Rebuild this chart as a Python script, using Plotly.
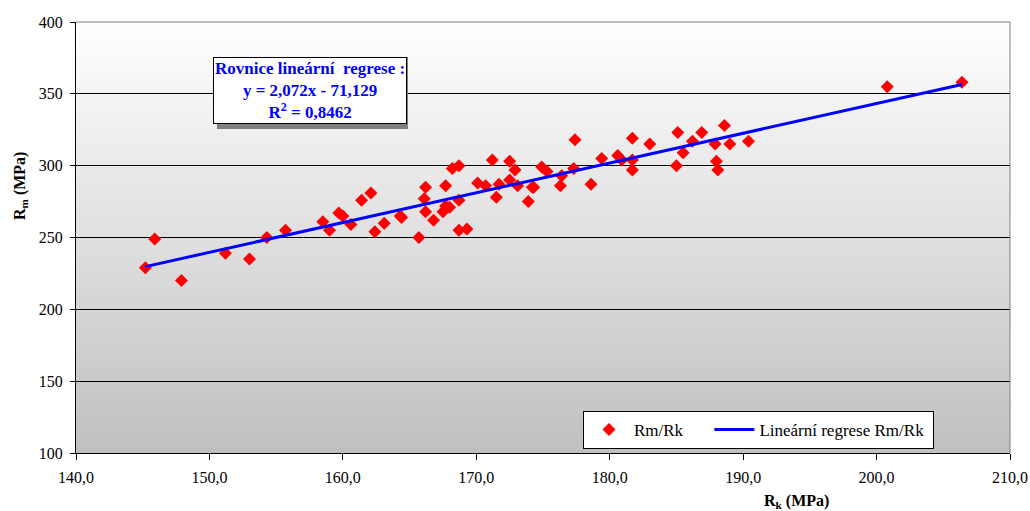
import plotly.graph_objects as go

# Rk (MPa) values
rk = [145.2, 145.9, 147.9, 151.2, 153.0, 154.3, 155.7, 158.5, 159.0,
      159.7, 160.0, 160.6, 161.4, 162.1, 162.4, 163.1, 164.3, 164.4, 165.7,
      166.1, 166.2, 166.2, 166.8, 167.5, 167.7, 167.7, 168.0, 168.2, 168.7,
      168.7, 169.3, 168.7, 170.1, 170.7, 171.2, 171.5, 171.7,
      172.5, 172.9, 172.5, 173.1, 173.9, 174.2, 174.3, 174.9, 175.3, 176.3,
      176.4, 177.4, 177.3, 178.6, 179.4, 180.6, 180.9, 181.7, 181.7, 181.7,
      183.0,
      185.1, 185.0, 185.5, 186.2, 186.9, 187.9, 188.0, 188.1, 188.6, 189.0,
      190.4,
      200.8, 206.4]
# Rm (MPa) values
rm = [229, 249, 220, 239, 235, 250, 255, 261, 255,
      267, 265, 259, 276, 281, 254, 260, 265, 264, 250,
      277, 285, 268, 262, 268, 286, 272, 271, 298, 300,
      255, 256, 276, 288, 286, 304, 278, 287,
      303, 297, 290, 286, 275, 285, 285, 299, 296, 286,
      293, 318, 298, 287, 305, 307, 304, 319, 304, 297,
      315,
      323, 300, 309, 317, 323, 315, 303, 297, 328, 315,
      317,
      355, 358]

# regression coefficients shown on the chart
slope = 2.072
intercept = -71.129
r2 = 0.8462

x_ticks = [140, 150, 160, 170, 180, 190, 200, 210]
y_ticks = [100, 150, 200, 250, 300, 350, 400]

FONT = "Liberation Serif"

# plot area in pixels (page coords)
L, R, T, B = 76, 1010, 22, 453
PW, PH = R - L, B - T


def px(x):
    return (x - L) / PW


def py(y):
    return (B - y) / PH


fig = go.Figure()
fig.add_trace(go.Scatter(
    x=rk, y=rm, mode="markers", name="Rm/Rk&nbsp;&nbsp;&nbsp;&nbsp;&nbsp;",
    marker=dict(symbol="diamond", size=10, color="#ff0000", line=dict(width=0)),
))
x_line = [min(rk), max(rk)]
y_line = [slope * v + intercept for v in x_line]
fig.add_trace(go.Scatter(
    x=x_line, y=y_line, mode="lines", name="Lineární regrese Rm/Rk&nbsp;",
    line=dict(color="#0000ff", width=3),
))

shapes = []
N = 80
top = (255, 255, 255)
bot = (192, 192, 192)
for i in range(N):
    t = (i + 0.5) / N
    c = tuple(round(top[k] + (bot[k] - top[k]) * t) for k in range(3))
    shapes.append(dict(type="rect", xref="x domain", yref="y domain",
                       x0=0, x1=1, y0=1 - (i + 1) / N, y1=1 - i / N + 0.002,
                       fillcolor="rgb(%d,%d,%d)" % c, line=dict(width=0),
                       layer="below"))
shapes.append(dict(type="line", xref="x domain", yref="y domain",
                   x0=0, x1=1, y0=1, y1=1, line=dict(color="#808080", width=1),
                   layer="above"))
shapes.append(dict(type="line", xref="x domain", yref="y domain",
                   x0=1, x1=1, y0=0, y1=1, line=dict(color="#808080", width=1),
                   layer="above"))
# shadow of the equation box
shapes.append(dict(type="rect", xref="paper", yref="paper",
                   x0=px(217), x1=px(408), y0=py(129), y1=py(57),
                   fillcolor="#808080", line=dict(width=0), layer="above"))

eq_text = ("<b>Rovnice lineární&nbsp; regrese :<br>y = %s - %s<br>R<sup>2</sup> = %s</b>" % (
    ("%.3fx" % slope).replace(".", ","),
    ("%.3f" % -intercept).replace(".", ","),
    ("%.4f" % r2).replace(".", ",")))

annotations = [
    dict(xref="paper", yref="paper", x=px(309.5), y=py(90),
         text=eq_text, showarrow=False,
         font=dict(family=FONT, size=17, color="#0000ff"),
         bgcolor="#ffffff", bordercolor="#000000", borderwidth=1, borderpad=1,
         xanchor="center", yanchor="middle", align="center"),
    dict(xref="paper", yref="paper", x=px(796), y=py(501),
         text="<b>R<sub>k</sub> (MPa)</b>", showarrow=False,
         font=dict(family=FONT, size=16, color="#000000"),
         xanchor="center", yanchor="middle"),
    dict(xref="paper", yref="paper", x=px(20), y=py(186),
         text="<b>R<sub>m</sub> (MPa)</b>", showarrow=False, textangle=-90,
         font=dict(family=FONT, size=16, color="#000000"),
         xanchor="center", yanchor="middle"),
]

fig.update_layout(
    width=1030, height=511, autosize=False,
    margin=dict(l=L, r=1030 - R, t=T, b=511 - B, autoexpand=False),
    paper_bgcolor="#ffffff", plot_bgcolor="#ffffff",
    font=dict(family=FONT, size=16, color="#000000"),
    separators=", ",
    showlegend=True,
    legend=dict(orientation="h", x=px(583), y=py(411),
                xanchor="left", yanchor="top",
                bgcolor="#ffffff", bordercolor="#000000", borderwidth=1,
                font=dict(family=FONT, size=17, color="#000000"),
                itemwidth=40, tracegroupgap=0),
    shapes=shapes,
    annotations=annotations,
    xaxis=dict(range=[140, 210], tickvals=x_ticks, tickformat=".1f",
               showgrid=False, zeroline=False, showline=True, linecolor="#000000",
               linewidth=1, ticks="outside", ticklen=6, tickcolor="#000000",
               ticklabelstandoff=4, tickfont=dict(family=FONT, size=16),
               automargin=False),
    yaxis=dict(range=[100, 400], tickvals=y_ticks, showgrid=True,
               gridcolor="#000000", gridwidth=1, zeroline=False, showline=True,
               linecolor="#000000", linewidth=1, ticks="outside", ticklen=5,
               tickcolor="#000000", ticklabelstandoff=4,
               tickfont=dict(family=FONT, size=16), automargin=False),
)

fig.write_html("out.html",
               config={"displayModeBar": False, "responsive": False},
               post_script="document.body.style.margin='0px';"
                           "document.body.style.overflow='hidden';")
